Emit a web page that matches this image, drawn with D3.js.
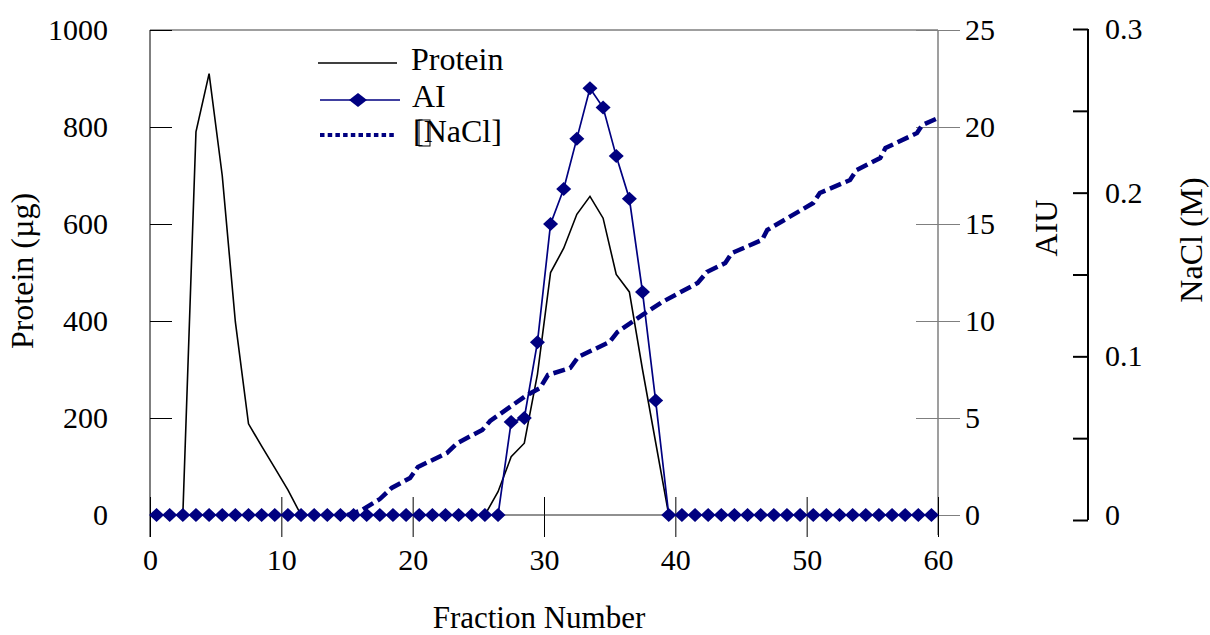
<!DOCTYPE html>
<html>
<head>
<meta charset="utf-8">
<script src="https://cdn.jsdelivr.net/npm/d3@7"></script>
<style>
  html, body { margin: 0; padding: 0; background: #fff; }
  svg text { font-family: "Liberation Serif", "Times New Roman", serif; fill: #000; }
</style>
</head>
<body>
<svg id="chart" width="1210" height="635"></svg>
<script>
// Column fractions (1 ... 60)
const fractions = [1,2,3,4,5,6,7,8,9,10,11,12,13,14,15,16,17,18,19,20,
  21,22,23,24,25,26,27,28,29,30,31,32,33,34,35,36,37,38,39,40,
  41,42,43,44,45,46,47,48,49,50,51,52,53,54,55,56,57,58,59,60];

// Protein per fraction (µg)
const protein = [0,0,0,790,910,700,398,188,142,97,52,0,0,0,0,0,0,0,0,0,
  0,0,0,0,0,0,48,120,148,290,500,550,620,657,612,496,460,300,150,0,
  0,0,0,0,0,0,0,0,0,0,0,0,0,0,0,0,0,0,0,0];

// Inhibitory activity per fraction (AIU)
const activity = [0,0,0,0,0,0,0,0,0,0,0,0,0,0,0,0,0,0,0,0,
  0,0,0,0,0,0,0,4.8,5.0,8.9,15.0,16.8,19.4,22.0,21.0,18.5,16.3,11.5,5.9,0,
  0,0,0,0,0,0,0,0,0,0,0,0,0,0,0,0,0,0,0,0];

// Salt gradient readings: fraction position and NaCl concentration (M)
const naclFraction = [15.5,16.5,18.0,18.9,20.3,20.9,23.1,23.9,25.8,26.4,29.1,30.2,30.8,32.5,33.1,
  35.5,36.1,38.0,39.5,42.2,42.9,44.3,44.8,47.1,47.5,51.0,51.5,53.8,54.3,56.1,56.5,58.9,59.3,60.5];
const naclConc = [0.003,0.0055,0.0128,0.0196,0.0257,0.0324,0.0409,0.047,0.055,0.0605,0.0758,0.0807,0.0886,0.0929,0.0996,
  0.1088,0.1149,0.1253,0.1332,0.1448,0.1515,0.157,0.1631,0.1711,0.1772,0.1937,0.1998,0.2077,0.2138,0.2212,0.2273,0.2364,0.2413,0.2456];

// Tick values
const xTicks = [0,10,20,30,40,50,60];
const proteinTicks = [0,200,400,600,800,1000];
const aiuTicks = [0,5,10,15,20,25];
const naclTicks = [0,0.05,0.1,0.15,0.2,0.25,0.3];
const naclLabelTicks = [0,0.1,0.2,0.3];

const NAVY = "#000080";
const GRAY = "#7f7f7f";

const svg = d3.select("#chart");
svg.append("rect").attr("width", 1210).attr("height", 635).attr("fill", "#fff");

// Plot frame
const plotLeft = 150, plotRight = 938, plotTop = 30, plotBottom = 515;

// Scales
const xAxisScale = d3.scaleLinear().domain([0, 60]).range([plotLeft, plotRight]);
const xFrac = d3.scaleLinear().domain([0.5, 60.5]).range([plotLeft, plotRight]);
const yProtein = d3.scaleLinear().domain([0, 1000]).range([plotBottom, plotTop]);
const yAIU = d3.scaleLinear().domain([0, 25]).range([plotBottom, plotTop]);
const yNaCl = d3.scaleLinear().domain([0, 0.3]).range([520, 29]);

// Top border
svg.append("line").attr("x1", plotLeft).attr("x2", plotRight).attr("y1", plotTop).attr("y2", plotTop)
  .attr("stroke", GRAY).attr("stroke-width", 1.5);

// Left axis (Protein)
const gLeft = svg.append("g").attr("transform", `translate(${plotLeft},0)`)
  .call(d3.axisLeft(yProtein).tickValues(proteinTicks).tickFormat(d3.format("d"))
    .tickSize(22).tickPadding(20).tickSizeOuter(0));
gLeft.select(".domain").remove();
gLeft.selectAll(".tick line").attr("x2", 22).attr("stroke", "#000");
gLeft.selectAll(".tick text").attr("font-size", 30).attr("font-family", "Liberation Serif");
svg.append("line").attr("x1", plotLeft).attr("x2", plotLeft).attr("y1", plotTop).attr("y2", 537)
  .attr("stroke", "#000").attr("stroke-width", 1);

// Right axis (AIU)
const gRight = svg.append("g").attr("transform", `translate(${plotRight},0)`)
  .call(d3.axisRight(yAIU).tickValues(aiuTicks).tickSize(22).tickPadding(5).tickSizeOuter(0));
gRight.select(".domain").remove();
gRight.selectAll(".tick line").attr("x1", -22).attr("stroke", GRAY);
gRight.selectAll(".tick text").attr("font-size", 30).attr("font-family", "Liberation Serif");
svg.append("line").attr("x1", plotRight).attr("x2", plotRight).attr("y1", plotTop).attr("y2", 535)
  .attr("stroke", GRAY).attr("stroke-width", 1.5);

// Bottom axis (Fraction Number)
const gBottom = svg.append("g").attr("transform", `translate(0,${plotBottom})`)
  .call(d3.axisBottom(xAxisScale).tickValues(xTicks).tickSize(22).tickPadding(12).tickSizeOuter(0));
gBottom.select(".domain").remove();
gBottom.selectAll(".tick line").attr("y1", -18).attr("stroke", "#000");
gBottom.selectAll(".tick text").attr("font-size", 30).attr("font-family", "Liberation Serif");
svg.append("line").attr("x1", plotLeft).attr("x2", plotRight).attr("y1", plotBottom).attr("y2", plotBottom)
  .attr("stroke", "#222").attr("stroke-width", 1.2);

// Outer axis (NaCl)
const naclX = 1088;
const gSalt = svg.append("g").attr("transform", `translate(${naclX},0)`)
  .call(d3.axisLeft(yNaCl).tickValues(naclTicks).tickSize(15).tickFormat("").tickSizeOuter(0));
gSalt.select(".domain").remove();
gSalt.selectAll(".tick line").attr("stroke", "#000").attr("stroke-width", 2);
svg.append("line").attr("x1", naclX).attr("x2", naclX).attr("y1", yNaCl(0.3)).attr("y2", yNaCl(0))
  .attr("stroke", "#000").attr("stroke-width", 2);
const gSaltLabels = svg.append("g").attr("transform", `translate(${naclX},0)`)
  .call(d3.axisRight(yNaCl).tickValues(naclLabelTicks).tickSize(0).tickPadding(17)
    .tickFormat(d => d === 0 ? "0" : d3.format(".1f")(d)));
gSaltLabels.select(".domain").remove();
gSaltLabels.selectAll(".tick text").attr("font-size", 30).attr("font-family", "Liberation Serif");
gSaltLabels.selectAll(".tick text").filter(d => d === 0).attr("y", -5);

// Axis titles
svg.append("text").attr("transform", "translate(33,271) rotate(-90)")
  .attr("text-anchor", "middle").attr("font-size", 32).text("Protein (µg)");
svg.append("text").attr("transform", "translate(1057,228) rotate(-90)")
  .attr("text-anchor", "middle").attr("font-size", 32).text("AIU");
svg.append("text").attr("transform", "translate(1202,240) rotate(-90)")
  .attr("text-anchor", "middle").attr("font-size", 32).text("NaCl (M)");
svg.append("text").attr("x", 539).attr("y", 628)
  .attr("text-anchor", "middle").attr("font-size", 31).text("Fraction Number");

// Series
const proteinLine = d3.line().x((d, i) => xFrac(fractions[i])).y(d => yProtein(d));
svg.append("path").attr("d", proteinLine(protein))
  .attr("fill", "none").attr("stroke", "#000").attr("stroke-width", 1.6);

const aiLine = d3.line().x((d, i) => xFrac(fractions[i])).y(d => yAIU(d));
svg.append("path").attr("d", aiLine(activity))
  .attr("fill", "none").attr("stroke", NAVY).attr("stroke-width", 1.7);

const diamond = (hw, hh) => `M0,${-hh}L${hw},0L0,${hh}L${-hw},0Z`;
svg.append("g").selectAll("path").data(activity).join("path")
  .attr("transform", (d, i) => `translate(${xFrac(fractions[i])},${yAIU(d)})`)
  .attr("d", diamond(7.5, 7)).attr("fill", NAVY);

const saltLine = d3.line().x((d, i) => xFrac(naclFraction[i])).y(d => yNaCl(d));
svg.append("path").attr("d", saltLine(naclConc))
  .attr("fill", "none").attr("stroke", NAVY).attr("stroke-width", 4.5)
  .attr("stroke-dasharray", "12,5");

// Legend
const legend = svg.append("g");
legend.append("line").attr("x1", 318).attr("x2", 397).attr("y1", 63).attr("y2", 63)
  .attr("stroke", "#000").attr("stroke-width", 1.6);
legend.append("text").attr("x", 411).attr("y", 70).attr("font-size", 32).text("Protein");
legend.append("line").attr("x1", 320).attr("x2", 400).attr("y1", 100).attr("y2", 100)
  .attr("stroke", NAVY).attr("stroke-width", 1.7);
legend.append("path").attr("transform", "translate(358,100)").attr("d", diamond(9, 7)).attr("fill", NAVY);
legend.append("text").attr("x", 412).attr("y", 107).attr("font-size", 32).text("AI");
legend.append("line").attr("x1", 320).attr("x2", 397).attr("y1", 135).attr("y2", 135)
  .attr("stroke", NAVY).attr("stroke-width", 4).attr("stroke-dasharray", "4.5,3.2");
legend.append("rect").attr("x", 419).attr("y", 120).attr("width", 11).attr("height", 26)
  .attr("fill", "none").attr("stroke", "#000").attr("stroke-width", 1);
legend.append("text").attr("x", 413).attr("y", 142).attr("font-size", 32).text("[NaCl]");
</script>
</body>
</html>
